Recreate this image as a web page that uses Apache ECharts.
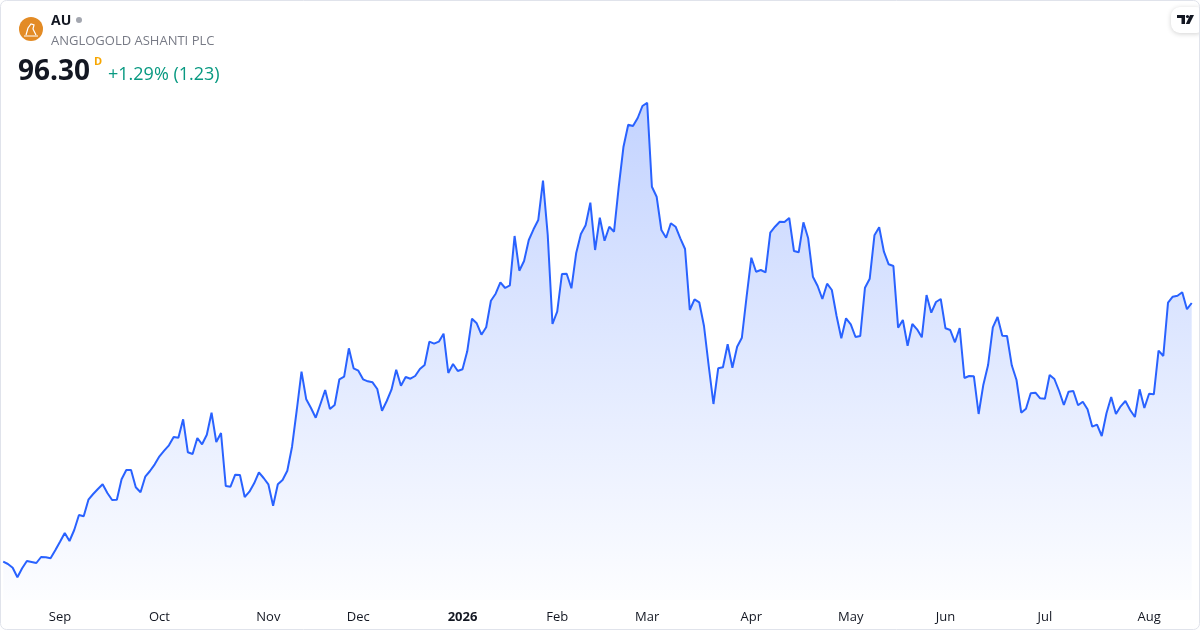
<!DOCTYPE html>
<html>
<head>
<meta charset="utf-8">
<script src="https://cdn.jsdelivr.net/npm/echarts@6/dist/echarts.min.js"></script>
<style>
  html, body { margin: 0; padding: 0; background: #ffffff; }
  #chart { width: 1200px; height: 630px; }
</style>
</head>
<body>
<div id="chart"></div>
<script>
// ---- data ----
const symbol = 'AU';
const companyName = 'ANGLOGOLD ASHANTI PLC';
const lastPrice = '96.30';
const changeText = '+1.29% (1.23)';

// trading days before the first labelled month, and trading days per month
const leadDays = 12;
const monthLabels = ['Sep', 'Oct', 'Nov', 'Dec', '2026', 'Feb', 'Mar', 'Apr', 'May', 'Jun', 'Jul', 'Aug'];
const monthDays = [21, 23, 19, 22, 20, 19, 22, 21, 20, 21, 22, 10];

// daily closes
const closePrices = [
  44.56, 44.1, 43.36, 41.44, 43.24, 44.7, 44.5, 44.3, 45.5, 45.44,
  45.24, 46.84, 48.56, 50.3, 48.7, 50.9, 53.9, 53.64, 56.96, 58.1,
  59.1, 60.04, 58.3, 56.9, 56.96, 61.04, 62.9, 62.9, 59.44, 58.44,
  61.56, 62.7, 64.04, 65.64, 66.76, 67.84, 69.5, 69.36, 73.04, 66.44,
  66.1, 69.3, 68.04, 69.96, 74.36, 68.5, 70.3, 59.7, 59.56, 61.96,
  61.9, 57.5, 58.56, 60.24, 62.44, 61.3, 60.04, 55.76, 60.04, 60.9,
  62.76, 67.56, 74.9, 82.56, 77.04, 75.3, 73.36, 76.1, 78.9, 75.1,
  75.9, 81.04, 81.56, 87.24, 83.24, 82.76, 81.04, 80.64, 80.44, 79.1,
  74.76, 76.7, 78.96, 82.96, 79.76, 81.5, 81.16, 81.7, 83.1, 83.9,
  88.56, 88.16, 88.56, 90.16, 82.3, 84.1, 82.7, 83.04, 86.64, 93.16,
  92.24, 89.96, 91.44, 96.76, 98.16, 100.44, 99.3, 99.84, 109.7, 102.76,
  104.7, 108.9, 111.04, 112.9, 120.76, 109.9, 92.1, 94.56, 102.1, 102.16,
  99.24, 106.24, 110.1, 111.84, 116.36, 106.9, 113.36, 108.76, 111.56, 110.56,
  119.56, 127.56, 131.96, 131.7, 133.3, 135.7, 136.36, 119.56, 117.56, 110.9,
  109.36, 112.24, 111.56, 109.24, 107.1, 94.9, 97.04, 96.44, 91.7, 83.7,
  76.1, 83.24, 83.44, 88.04, 83.36, 87.56, 89.36, 97.56, 105.36, 102.56,
  102.9, 102.44, 110.36, 111.56, 112.56, 112.5, 113.3, 106.7, 106.44, 112.44,
  109.24, 101.56, 99.7, 97.1, 100.16, 98.9, 93.7, 89.24, 93.24, 92.04,
  89.5, 89.7, 99.36, 101.16, 109.84, 111.44, 106.56, 104.04, 103.7, 91.36,
  92.9, 87.76, 92.1, 91.04, 89.44, 97.9, 94.36, 96.5, 97.1, 91.24,
  90.9, 88.44, 91.3, 81.3, 81.7, 81.64, 74.1, 79.96, 83.9, 91.44,
  93.5, 89.76, 89.7, 83.84, 80.9, 74.36, 75.16, 78.24, 78.36, 77.24,
  77.16, 81.9, 81.1, 78.7, 75.9, 78.56, 78.7, 75.84, 76.56, 75.04,
  71.56, 71.96, 69.7, 74.24, 77.5, 74.1, 75.64, 76.7, 74.9, 73.5,
  79.04, 75.3, 78.16, 78.04, 86.76, 85.7, 96.36, 97.56, 97.76, 98.44,
  95.07, 96.3
];

const yMin = 36.9;
const yMax = 144.9;

// ---- build category axis (one category per trading day) ----
const categories = [];
for (let k = 0; k < leadDays; k++) categories.push('pre|' + k);
monthLabels.forEach(function (m, mi) {
  for (let k = 0; k < monthDays[mi]; k++) categories.push(m + '|' + k);
});

const FONT = '"Open Sans", "Noto Sans", sans-serif';

const chart = echarts.init(document.getElementById('chart'), null, { renderer: 'canvas' });
chart.setOption({
  animation: false,
  backgroundColor: '#ffffff',
  grid: { left: 3.2, right: 8.3, top: 60, bottom: 30, outerBoundsMode: 'none' },
  xAxis: {
    type: 'category',
    data: categories,
    boundaryGap: false,
    axisLine: { show: false },
    axisTick: { show: false },
    splitLine: { show: false },
    axisLabel: {
      interval: function (index, value) {
        return value.split('|')[1] === '0' && value.split('|')[0] !== 'pre';
      },
      formatter: function (value) {
        const name = value.split('|')[0];
        return name === '2026' ? '{b|' + name + '}' : name;
      },
      color: '#131722',
      fontSize: 13,
      fontFamily: FONT,
      margin: 11,
      rich: {
        b: { fontWeight: 'bold', fontSize: 13, fontFamily: FONT, color: '#131722' }
      }
    }
  },
  yAxis: {
    type: 'value',
    min: yMin,
    max: yMax,
    show: false,
    splitLine: { show: false }
  },
  series: [{
    type: 'line',
    data: closePrices,
    symbol: 'none',
    smooth: false,
    lineStyle: { color: '#2962FF', width: 2 },
    itemStyle: { color: '#2962FF' },
    areaStyle: {
      opacity: 1,
      color: new echarts.graphic.LinearGradient(0, 0, 0, 1, [
        { offset: 0, color: 'rgba(41, 98, 255, 0.28)' },
        { offset: 1, color: 'rgba(41, 98, 255, 0.01)' }
      ])
    }
  }],
  graphic: [
    { type: 'circle', shape: { cx: 31, cy: 29, r: 12 }, style: { fill: '#E38B25' } },
    { type: 'polyline', shape: { points: [[26, 35], [28, 28], [31, 24], [34, 25], [33, 29], [36, 35]] },
      style: { stroke: '#ffffff', lineWidth: 1.2, fill: null } },
    { type: 'line', shape: { x1: 24, y1: 36, x2: 38, y2: 36 }, style: { stroke: '#ffffff', lineWidth: 1 } },
    { type: 'text', style: { text: symbol, x: 51, y: 21, font: 'bold 14px ' + FONT, fill: '#131722', verticalAlign: 'middle' } },
    { type: 'circle', shape: { cx: 79, cy: 20, r: 3 }, style: { fill: '#a3a6af' } },
    { type: 'text', style: { text: companyName, x: 51, y: 41, font: '13px ' + FONT, fill: '#787b86', verticalAlign: 'middle' } },
    { type: 'text', style: { text: lastPrice, x: 18, y: 72, font: 'bold 28px ' + FONT, fill: '#131722', verticalAlign: 'middle' } },
    { type: 'text', style: { text: 'D', x: 94, y: 62, font: 'bold 11px ' + FONT, fill: '#F7A600', verticalAlign: 'middle' } },
    { type: 'text', style: { text: changeText, x: 108, y: 75, font: '18px ' + FONT, fill: '#089981', verticalAlign: 'middle' } },
    // TradingView badge
    { type: 'rect', shape: { x: 1171, y: 7, width: 34, height: 26, r: 9 },
      style: { fill: '#ffffff', shadowBlur: 5, shadowColor: 'rgba(0,0,0,0.18)', shadowOffsetY: 1 } },
    { type: 'rect', shape: { x: 1177, y: 15, width: 8, height: 3 }, style: { fill: '#131722' } },
    { type: 'rect', shape: { x: 1181.5, y: 15, width: 3.5, height: 9 }, style: { fill: '#131722' } },
    { type: 'circle', shape: { cx: 1187.5, cy: 16.5, r: 1.6 }, style: { fill: '#131722' } },
    { type: 'polygon', shape: { points: [[1190, 15], [1194, 15], [1189.5, 24], [1185.8, 24]] }, style: { fill: '#131722' } },
    // card border
    { type: 'rect', z: 100, shape: { x: 0.5, y: 0.5, width: 1199, height: 629, r: 6 },
      style: { fill: null, stroke: '#e0e3eb', lineWidth: 1 } }
  ]
});
</script>
</body>
</html>
